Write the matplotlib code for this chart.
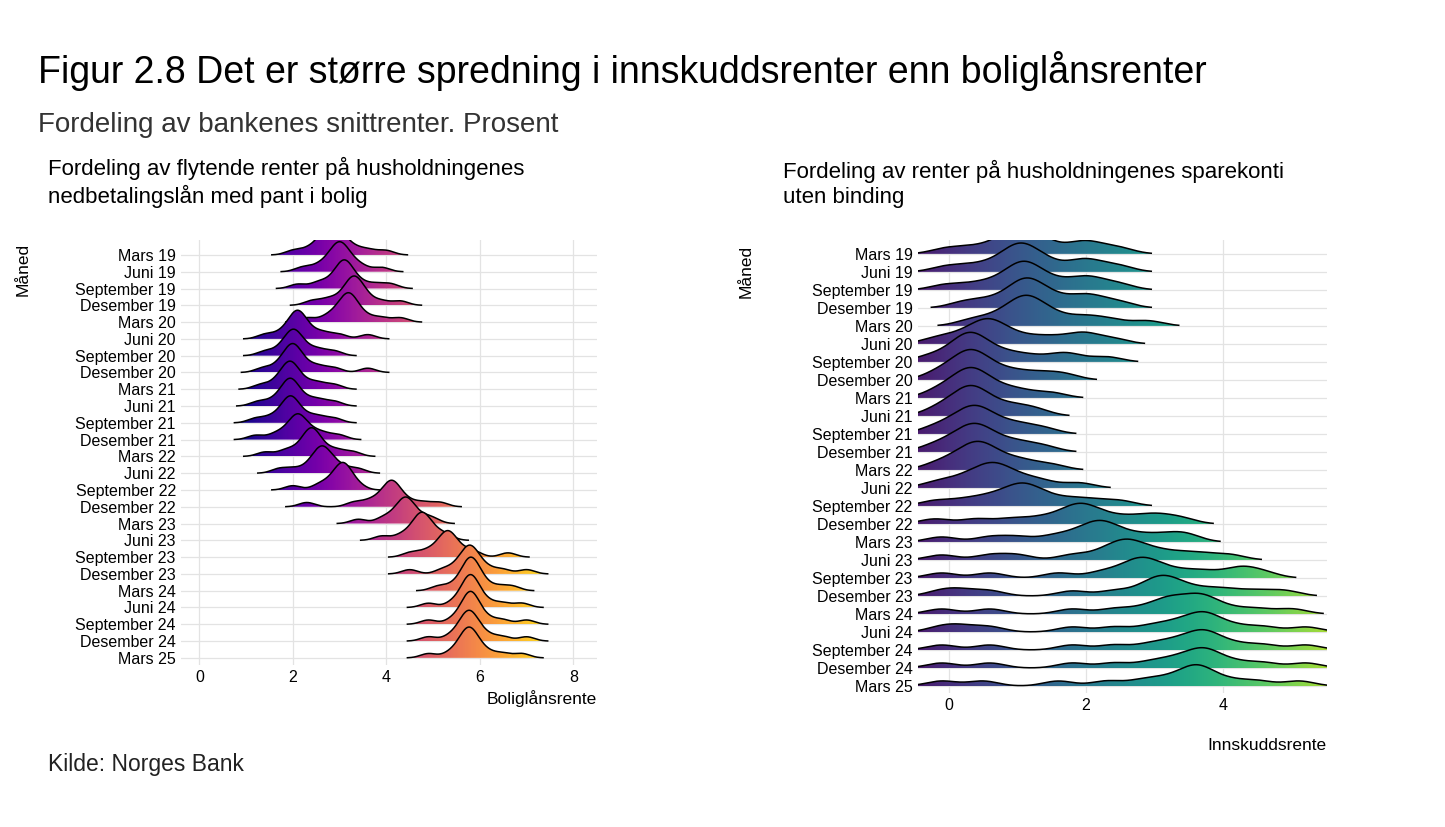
import numpy as np
import matplotlib
matplotlib.use("Agg")
import matplotlib.pyplot as plt
from matplotlib.patches import Polygon

plt.rcParams["font.family"] = "Liberation Sans"

months = ["Mars 19","Juni 19","September 19","Desember 19","Mars 20","Juni 20","September 20",
          "Desember 20","Mars 21","Juni 21","September 21","Desember 21","Mars 22","Juni 22",
          "September 22","Desember 22","Mars 23","Juni 23","September 23","Desember 23",
          "Mars 24","Juni 24","September 24","Desember 24","Mars 25"]

# Estimated bank rates per month (boliglån, flytende)
lan = [
 [2.0,2.3,2.5,2.6,2.7,2.75,2.8,2.8,2.85,2.9,2.95,3.0,3.1,3.2,3.4,3.65,4.0],
 [2.2,2.5,2.7,2.8,2.9,2.95,3.0,3.0,3.05,3.1,3.2,3.3,3.5,3.9],
 [2.1,2.5,2.7,2.9,3.0,3.05,3.1,3.1,3.15,3.2,3.3,3.5,3.8,4.1],
 [2.4,2.7,2.9,3.1,3.2,3.25,3.3,3.3,3.35,3.4,3.5,3.6,3.9,4.3],
 [2.3,2.7,2.9,3.0,3.1,3.15,3.2,3.2,3.25,3.3,3.4,3.6,3.9,4.3],
 [1.4,1.7,1.9,2.0,2.05,2.1,2.1,2.15,2.2,2.3,2.5,2.7,3.0,3.6],
 [1.4,1.7,1.85,1.95,2.0,2.0,2.05,2.1,2.2,2.4,2.6,2.9],
 [1.35,1.65,1.8,1.9,1.95,2.0,2.0,2.05,2.1,2.2,2.4,2.6,2.9,3.6],
 [1.3,1.6,1.75,1.85,1.9,1.95,1.95,2.0,2.05,2.2,2.4,2.6,2.9],
 [1.25,1.55,1.75,1.85,1.9,1.95,1.95,2.0,2.05,2.2,2.4,2.6,2.9],
 [1.2,1.5,1.7,1.85,1.9,1.95,1.95,2.0,2.05,2.2,2.4,2.6,2.9],
 [1.2,1.6,1.8,1.95,2.05,2.1,2.1,2.15,2.2,2.35,2.5,2.7,3.0],
 [1.4,1.8,2.0,2.2,2.3,2.35,2.4,2.4,2.45,2.5,2.6,2.8,3.0,3.3],
 [1.7,2.0,2.3,2.45,2.55,2.6,2.6,2.65,2.7,2.8,2.9,3.1,3.4],
 [2.0,2.55,2.75,2.9,3.0,3.05,3.05,3.1,3.15,3.2,3.4],
 [2.3,3.3,3.6,3.8,3.95,4.05,4.1,4.1,4.15,4.2,4.3,4.5,4.8,5.15],
 [3.4,3.9,4.1,4.25,4.35,4.4,4.4,4.45,4.5,4.6,4.8,5.0],
 [3.9,4.3,4.5,4.65,4.7,4.75,4.75,4.8,4.85,4.95,5.1,5.3],
 [4.5,4.8,5.0,5.15,5.25,5.3,5.3,5.35,5.4,5.5,5.7,5.9,6.6],
 [4.5,5.2,5.45,5.6,5.7,5.75,5.75,5.8,5.85,5.9,6.0,6.2,6.5,7.0],
 [5.1,5.4,5.6,5.7,5.75,5.8,5.8,5.8,5.85,5.9,6.0,6.1,6.4,6.7],
 [4.9,5.4,5.6,5.7,5.75,5.8,5.8,5.8,5.85,5.9,6.0,6.2,6.5,6.9],
 [4.9,5.4,5.6,5.7,5.75,5.8,5.8,5.8,5.85,5.9,6.0,6.2,6.5,7.0],
 [4.9,5.35,5.55,5.65,5.7,5.75,5.75,5.8,5.85,5.9,6.0,6.2,6.5,7.0],
 [4.9,5.35,5.55,5.65,5.7,5.75,5.75,5.8,5.85,5.9,6.0,6.2,6.5,6.9],
]

# Estimated bank rates per month (sparekonti uten binding)
spar = [
 [-0.05,0.3,0.6,0.8,0.95,1.0,1.05,1.1,1.2,1.35,1.5,1.9,1.95,2.2,2.5],
 [-0.05,0.3,0.6,0.8,0.95,1.0,1.05,1.1,1.2,1.35,1.5,1.9,1.95,2.2,2.5],
 [-0.05,0.35,0.65,0.85,1.0,1.05,1.1,1.15,1.25,1.4,1.6,1.9,2.0,2.2,2.5],
 [0.2,0.5,0.75,0.95,1.05,1.1,1.15,1.2,1.3,1.45,1.6,1.9,2.0,2.2,2.5],
 [0.3,0.6,0.8,0.95,1.05,1.1,1.15,1.2,1.3,1.45,1.6,1.9,2.1,2.4,2.9],
 [-0.2,0.1,0.3,0.45,0.55,0.6,0.65,0.8,1.0,1.3,1.6,1.95,2.0,2.4],
 [-0.3,0.0,0.15,0.25,0.3,0.35,0.4,0.5,0.7,0.9,1.2,1.6,1.8,2.3],
 [-0.2,0.0,0.15,0.25,0.3,0.35,0.4,0.5,0.65,0.85,1.1,1.4,1.7],
 [-0.2,0.0,0.15,0.25,0.3,0.35,0.4,0.5,0.65,0.85,1.1,1.5],
 [-0.2,0.0,0.15,0.25,0.3,0.35,0.4,0.5,0.65,0.85,1.05,1.3],
 [-0.25,0.0,0.15,0.25,0.35,0.4,0.45,0.55,0.7,0.9,1.1,1.4],
 [-0.25,0.0,0.15,0.25,0.35,0.4,0.45,0.55,0.7,0.9,1.1,1.4],
 [-0.2,0.05,0.2,0.3,0.4,0.45,0.5,0.6,0.75,0.95,1.15,1.5],
 [-0.2,0.1,0.3,0.45,0.55,0.65,0.7,0.8,0.95,1.15,1.4,1.9],
 [-0.2,0.2,0.5,0.7,0.9,1.0,1.1,1.15,1.3,1.5,1.8,2.1,2.5],
 [-0.2,0.4,0.9,1.3,1.6,1.8,1.9,1.95,2.1,2.3,2.6,2.9,3.1,3.4],
 [-0.1,0.6,1.0,1.5,1.8,2.0,2.15,2.2,2.3,2.45,2.7,3.0,3.3,3.5],
 [-0.1,0.6,1.0,1.8,2.2,2.4,2.55,2.6,2.7,2.9,3.1,3.4,3.7,4.1],
 [-0.1,0.6,1.6,2.2,2.5,2.7,2.8,2.85,3.0,3.2,3.5,3.8,4.2,4.3,4.6],
 [-0.1,0.2,0.6,1.8,2.4,2.8,3.0,3.1,3.15,3.3,3.5,3.8,4.1,4.5,4.9],
 [-0.1,0.6,1.8,2.4,2.8,3.1,3.2,3.3,3.5,3.65,3.7,3.8,4.1,4.5,5.0],
 [-0.1,0.2,0.6,1.8,2.4,2.9,3.2,3.4,3.6,3.7,3.75,3.9,4.2,4.6,5.2],
 [-0.1,0.6,1.8,2.4,2.9,3.2,3.4,3.6,3.7,3.75,3.9,4.2,4.6,5.2],
 [-0.1,0.6,1.8,2.4,2.9,3.2,3.4,3.6,3.7,3.75,3.9,4.2,4.6,5.2],
 [-0.1,0.5,1.6,2.3,2.8,3.1,3.35,3.55,3.6,3.65,3.8,4.1,4.5,5.1],
]

def kde(vals, grid, bw):
    v = np.asarray(vals)[:, None]
    d = np.exp(-0.5 * ((grid[None, :] - v) / bw) ** 2).sum(0)
    return d

def ridges(ax, data, xlo, xhi, bw, cmap, vmin, vmax, scale, extend):
    n = len(data)
    dens = []
    for vals in data:
        g = np.linspace(min(vals) - extend, max(vals) + extend, 400)
        dens.append((g, kde(vals, g, bw)))
    gmax = max(d.max() for _, d in dens)
    grad = np.linspace(xlo, xhi, 400)[None, :]
    for i, (g, d) in enumerate(dens):
        base = n - 1 - i
        h = base + d / gmax * scale
        mask = d / gmax * scale > 0.004
        g2, h2 = g[mask], h[mask]
        verts = np.column_stack([np.r_[g2[0], g2, g2[-1]], np.r_[base, h2, base]])
        poly = Polygon(verts, closed=True, facecolor="none", edgecolor="none")
        ax.add_patch(poly)
        im = ax.imshow(grad, extent=[xlo, xhi, base, base + scale + 0.1], aspect="auto",
                       cmap=cmap, vmin=vmin, vmax=vmax, origin="lower", zorder=2 + i * 0.01)
        im.set_clip_path(poly)
        ax.plot(g2, h2, color="black", lw=1.1, zorder=2 + i * 0.01 + 0.005)
    ax.set_yticks(np.arange(n - 1, -1, -1))
    ax.set_yticklabels(months)
    for y in range(n):
        ax.axhline(y, color="#e3e3e3", lw=0.9, zorder=1)
    for s in ax.spines.values():
        s.set_visible(False)
    ax.tick_params(length=0, labelsize=11.5)
    ax.grid(axis="x", color="#e3e3e3", lw=0.9, zorder=0)
    ax.set_axisbelow(True)
    ax.set_ylabel("Måned", fontsize=12.5)

fig = plt.figure(figsize=(14.45, 8.27), dpi=100)
fig.text(0.026, 0.9, "Figur 2.8 Det er større spredning i innskuddsrenter enn boliglånsrenter", fontsize=27)
fig.text(0.026, 0.84, "Fordeling av bankenes snittrenter. Prosent", fontsize=20, color="#333333")
fig.text(0.033, 0.755, "Fordeling av flytende renter på husholdningenes\nnedbetalingslån med pant i bolig", fontsize=16, linespacing=1.25)
fig.text(0.542, 0.755, "Fordeling av renter på husholdningenes sparekonti\nuten binding", fontsize=16, linespacing=1.25)
fig.text(0.033, 0.068, "Kilde: Norges Bank", fontsize=16.5, color="#222222")

ax1 = fig.add_axes([0.125, 0.196, 0.288, 0.514])
ax1.set_xlim(-0.4, 8.5)
ax1.set_ylim(-0.42, 24.9)
ridges(ax1, lan, -0.4, 8.5, 0.17, "plasma", 0.9, 7.9, 2.0, 0.45)
ax1.set_xticks([0, 2, 4, 6, 8])
ax1.set_xlabel("Boliglånsrente", fontsize=12.5, loc="right")
ax1.yaxis.set_label_coords(-0.36, 0.93)

ax2 = fig.add_axes([0.635, 0.162, 0.283, 0.548])
ax2.set_xlim(-0.45, 5.5)
ax2.set_ylim(-0.39, 24.78)
ridges(ax2, spar, -0.45, 5.5, 0.22, "viridis", -1.0, 6.5, 1.7, 0.45)
ax2.set_xticks([0, 2, 4])
ax2.set_xlabel("Innskuddsrente", fontsize=12.5, loc="right", labelpad=18)
ax2.yaxis.set_label_coords(-0.4, 0.93)

fig.savefig("out.png", dpi=100)
